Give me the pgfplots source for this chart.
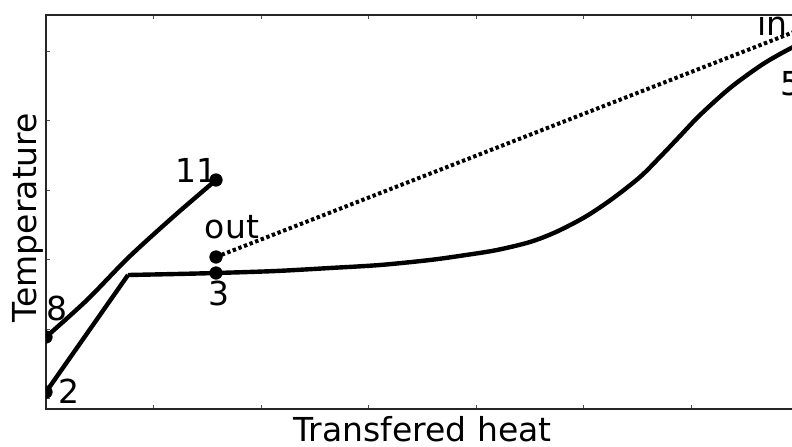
\documentclass[border=0pt]{standalone}
\usepackage{fontspec}
\setmainfont{DejaVu Sans}
\usepackage{pgfplots}
\pgfplotsset{compat=1.18}

\begin{document}
\begin{tikzpicture}
\begin{axis}[name=ax,scale only axis,width=376.5pt,height=197pt,
  xmin=0,xmax=753,ymin=0,ymax=394,
  xtick={107.5,215,322.5,430,537.5,645},ytick={10.5,80,149.5,219,288.5,358},
  xticklabels={},yticklabels={},tick align=inside,major tick length=2pt,
  tick style={black!70,line width=0.5pt},axis line style={black!85,line width=0.9pt},
  label style={font=\fontsize{16.5}{19}\selectfont},
  xlabel={Transfered heat},ylabel={Temperature},
  xlabel style={at={(axis description cs:0.5,0)},anchor=base,yshift=-16pt},
  ylabel style={at={(axis description cs:-0.012,0.486)},anchor=base},
  clip marker paths=true]
% hot stream 8 -> 11
\addplot[black,line width=2.2pt,smooth,tension=0.5] coordinates {(0,72) (41,109) (82,151) (127,192) (170,229)};
% cold stream 2 -> 3 -> 5
\addplot[black,line width=2.2pt] coordinates {(0,17) (82,134)};
\addplot[black,line width=2.2pt,smooth,tension=0.5] coordinates {(82,134) (130,135) (170,136) (230,138) (284,141) (334,144) (384,149) (420,154) (451,159) (484,167) (510,177) (539,192) (566,210) (594,232) (614,252) (634,273) (654,294) (684,321) (714,343) (734,355) (753,365)};
% out -> in
\addplot[black,line width=2pt,dash pattern=on 1.7pt off 1.3pt] coordinates {(170,152) (753,379)};
\addplot[only marks,mark=*,mark size=3.1pt,black] coordinates {(0,72) (170,229) (170,152) (170,136) (0,17) (753,365) (753,379)};
\node[anchor=base,font=\fontsize{16.5}{19}\selectfont] at (axis cs:150.5,227) {11};
\node[anchor=base,font=\fontsize{16.5}{19}\selectfont] at (axis cs:186,171) {out};
\node[anchor=base,font=\fontsize{16.5}{19}\selectfont] at (axis cs:173,104) {3};
\node[anchor=base,font=\fontsize{16.5}{19}\selectfont] at (axis cs:10.5,89) {8};
\node[anchor=base,font=\fontsize{16.5}{19}\selectfont] at (axis cs:22.5,6) {2};
\node[anchor=base west,inner sep=0pt,font=\fontsize{16.5}{19}\selectfont] at (axis cs:711,374) {in};
\node[anchor=base west,inner sep=0pt,font=\fontsize{16.5}{19}\selectfont] at (axis cs:734,314) {5};
\end{axis}
\pgfresetboundingbox
\path[use as bounding box] ([shift={(-23pt,-18.5pt)}]ax.south west) rectangle ([shift={(373pt,7.5pt)}]ax.north west);
\end{tikzpicture}
\end{document}
